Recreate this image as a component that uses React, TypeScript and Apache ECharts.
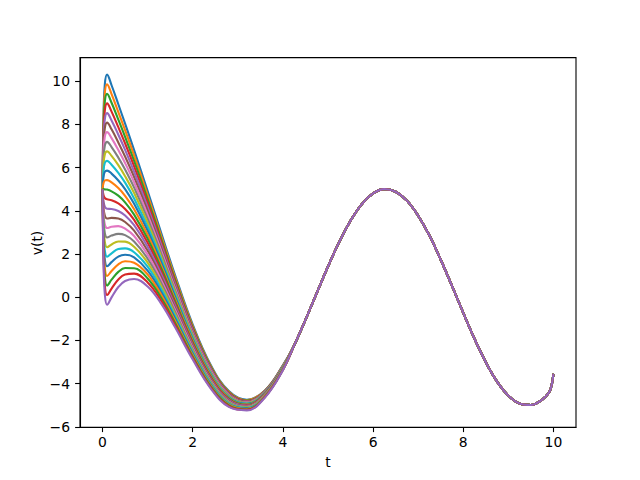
import React, { useEffect, useRef } from "react";
import * as echarts from "echarts";

// time samples for the transient part (per curve) and the shared settled part
const T_HEAD = [0, 0.02, 0.05, 0.1, 0.2, 0.35, 0.5, 0.7, 1.0, 1.3, 1.6, 2.0, 2.4, 2.8, 3.2, 3.6, 4.0];
const T_TAIL = [4.25, 4.5, 4.75, 5.0, 5.25, 5.5, 5.75, 6.0, 6.25, 6.5, 6.75, 7.0, 7.25, 7.5, 7.75, 8.0, 8.25, 8.5, 8.75, 9.0, 9.25, 9.5, 9.75, 9.9, 9.95, 9.98, 10.0];
const V_TAIL = [-2.23, -1.05, 0.19, 1.42, 2.56, 3.54, 4.31, 4.8, 5.0, 4.88, 4.47, 3.77, 2.85, 1.73, 0.52, -0.73, -1.93, -3.01, -3.91, -4.56, -4.92, -4.99, -4.74, -4.42, -4.15, -3.85, -3.55];

const curve00 = [5, 8.23, 9.84, 10.3, 9.81, 8.93, 8.03, 6.81, 4.91, 2.98, 1.07, -1.27, -3.14, -4.35, -4.75, -4.32, -3.16];
const curve01 = [5, 7.96, 9.44, 9.85, 9.4, 8.57, 7.73, 6.56, 4.73, 2.84, 0.97, -1.34, -3.19, -4.38, -4.77, -4.33, -3.17];
const curve02 = [5, 7.69, 9.03, 9.41, 9.0, 8.22, 7.42, 6.31, 4.54, 2.7, 0.86, -1.41, -3.23, -4.41, -4.79, -4.34, -3.18];
const curve03 = [5, 7.43, 8.63, 8.97, 8.59, 7.87, 7.12, 6.06, 4.36, 2.57, 0.76, -1.47, -3.28, -4.44, -4.81, -4.36, -3.19];
const curve04 = [5, 7.16, 8.23, 8.52, 8.18, 7.52, 6.82, 5.81, 4.17, 2.43, 0.66, -1.54, -3.32, -4.47, -4.83, -4.37, -3.19];
const curve05 = [5, 6.89, 7.82, 8.08, 7.77, 7.16, 6.51, 5.56, 3.99, 2.29, 0.56, -1.61, -3.37, -4.5, -4.85, -4.39, -3.2];
const curve06 = [5, 6.62, 7.42, 7.64, 7.36, 6.81, 6.21, 5.32, 3.81, 2.16, 0.46, -1.68, -3.41, -4.53, -4.87, -4.4, -3.21];
const curve07 = [5, 6.35, 7.01, 7.19, 6.95, 6.46, 5.91, 5.07, 3.62, 2.02, 0.36, -1.74, -3.46, -4.56, -4.89, -4.41, -3.22];
const curve08 = [5, 6.08, 6.61, 6.75, 6.54, 6.11, 5.6, 4.82, 3.44, 1.88, 0.26, -1.81, -3.51, -4.59, -4.91, -4.43, -3.23];
const curve09 = [5, 5.81, 6.21, 6.31, 6.13, 5.75, 5.3, 4.57, 3.25, 1.75, 0.16, -1.88, -3.55, -4.62, -4.93, -4.44, -3.24];
const curve10 = [5, 5.54, 5.8, 5.86, 5.72, 5.4, 5.0, 4.32, 3.07, 1.61, 0.06, -1.95, -3.6, -4.65, -4.95, -4.45, -3.25];
const curve11 = [5, 5.27, 5.4, 5.42, 5.31, 5.05, 4.69, 4.07, 2.89, 1.47, -0.05, -2.01, -3.64, -4.68, -4.97, -4.47, -3.26];
const curve12 = [5, 5.0, 4.99, 4.98, 4.9, 4.7, 4.39, 3.82, 2.7, 1.34, -0.15, -2.08, -3.69, -4.71, -4.99, -4.48, -3.27];
const curve13 = [5, 4.73, 4.59, 4.53, 4.49, 4.34, 4.08, 3.58, 2.52, 1.2, -0.25, -2.15, -3.73, -4.74, -5.01, -4.49, -3.28];
const curve14 = [5, 4.46, 4.19, 4.09, 4.08, 3.99, 3.78, 3.33, 2.33, 1.07, -0.35, -2.22, -3.78, -4.77, -5.03, -4.51, -3.29];
const curve15 = [5, 4.19, 3.78, 3.64, 3.67, 3.64, 3.48, 3.08, 2.15, 0.93, -0.45, -2.28, -3.82, -4.8, -5.05, -4.52, -3.3];
const curve16 = [5, 3.92, 3.38, 3.2, 3.26, 3.29, 3.17, 2.83, 1.97, 0.79, -0.55, -2.35, -3.87, -4.83, -5.07, -4.54, -3.3];
const curve17 = [5, 3.65, 2.97, 2.76, 2.85, 2.93, 2.87, 2.58, 1.78, 0.66, -0.65, -2.42, -3.91, -4.86, -5.09, -4.55, -3.31];
const curve18 = [5, 3.38, 2.57, 2.31, 2.44, 2.58, 2.57, 2.33, 1.6, 0.52, -0.75, -2.49, -3.96, -4.89, -5.11, -4.56, -3.32];
const curve19 = [5, 3.11, 2.17, 1.87, 2.03, 2.23, 2.26, 2.08, 1.41, 0.38, -0.85, -2.55, -4.0, -4.92, -5.13, -4.58, -3.33];
const curve20 = [5, 2.84, 1.76, 1.43, 1.62, 1.88, 1.96, 1.84, 1.23, 0.24, -0.95, -2.62, -4.05, -4.95, -5.15, -4.59, -3.34];
const curve21 = [5, 2.57, 1.36, 0.98, 1.21, 1.52, 1.66, 1.59, 1.05, 0.11, -1.06, -2.69, -4.1, -4.98, -5.18, -4.6, -3.35];
const curve22 = [5, 2.3, 0.95, 0.54, 0.81, 1.17, 1.35, 1.34, 0.86, -0.03, -1.16, -2.76, -4.14, -5.01, -5.2, -4.62, -3.36];
const curve23 = [5, 2.03, 0.55, 0.1, 0.4, 0.82, 1.05, 1.09, 0.68, -0.16, -1.26, -2.82, -4.19, -5.05, -5.22, -4.63, -3.37];
const curve24 = [5, 1.77, 0.15, -0.35, -0.01, 0.47, 0.75, 0.84, 0.49, -0.3, -1.36, -2.89, -4.23, -5.08, -5.24, -4.65, -3.38];

const CURVES = [
  curve00, curve01, curve02, curve03, curve04, curve05, curve06, curve07, curve08, curve09,
  curve10, curve11, curve12, curve13, curve14, curve15, curve16, curve17, curve18, curve19,
  curve20, curve21, curve22, curve23, curve24,
];

const X_TICKS = [0, 2, 4, 6, 8, 10];
const Y_TICKS = [-6, -4, -2, 0, 2, 4, 6, 8, 10];

const TAB10 = ["#1f77b4", "#ff7f0e", "#2ca02c", "#d62728", "#9467bd", "#8c564b", "#e377c2", "#7f7f7f", "#bcbd22", "#17becf"];

const FONT = "DejaVu Sans";

export default function App() {
  const ref = useRef<HTMLDivElement>(null);
  useEffect(() => {
    if (!ref.current) return;
    const chart = echarts.init(ref.current, undefined, { renderer: "svg" });
    const series = CURVES.map((head, i) => {
      const data: number[][] = [];
      T_HEAD.forEach((t, j) => data.push([t, head[j]]));
      T_TAIL.forEach((t, j) => data.push([t, V_TAIL[j]]));
      return {
        type: "line",
        name: "v" + i,
        data,
        showSymbol: false,
        smooth: 0.4,
        lineStyle: { color: TAB10[i % 10], width: 2.1 },
        itemStyle: { color: TAB10[i % 10] },
        z: 2,
      };
    });
    const fmt = (v: number) => String(v).replace("-", "\u2212");
    chart.setOption({
      animation: false,
      backgroundColor: "#ffffff",
      grid: { left: 80, top: 57.6, width: 496, height: 369.6, show: true, borderColor: "#000", borderWidth: 1.1, backgroundColor: "transparent" },
      xAxis: {
        type: "value",
        min: -0.5,
        max: 10.5,
        splitLine: { show: false },
        axisLine: { show: true, onZero: false, lineStyle: { color: "#000", width: 1.1 } },
        axisTick: { show: true, length: 4.9, lineStyle: { color: "#000", width: 1.1 }, customValues: X_TICKS },
        axisLabel: { customValues: X_TICKS, formatter: fmt, color: "#000", fontFamily: FONT, fontSize: 13.9, margin: 8 },
      },
      yAxis: {
        type: "value",
        min: -6.02,
        max: 11.09,
        splitLine: { show: false },
        axisLine: { show: true, onZero: false, lineStyle: { color: "#000", width: 1.1 } },
        axisTick: { show: true, length: 4.9, lineStyle: { color: "#000", width: 1.1 }, customValues: Y_TICKS },
        axisLabel: { customValues: Y_TICKS, formatter: fmt, color: "#000", fontFamily: FONT, fontSize: 13.9, margin: 10 },
      },
      graphic: [
        { type: "text", x: 328, y: 462, style: { text: "t", font: `13.9px '${FONT}'`, fill: "#000", align: "center", verticalAlign: "middle" } },
        { type: "text", x: 37, y: 243, rotation: Math.PI / 2, style: { text: "v(t)", font: `13.9px '${FONT}'`, fill: "#000", align: "center", verticalAlign: "middle" } },
      ],
      series,
    });
    return () => chart.dispose();
  }, []);
  return <div ref={ref} style={{ position: "fixed", left: 0, top: 0, width: 640, height: 480 }} />;
}
